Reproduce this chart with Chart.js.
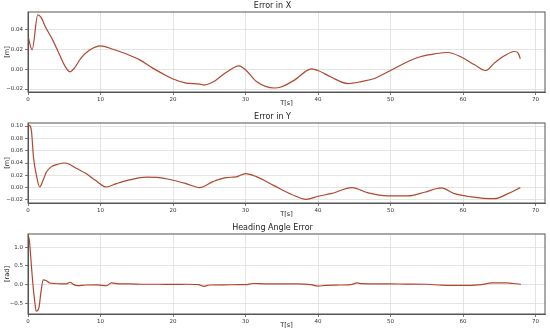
<!DOCTYPE html>
<html>
<head>
<meta charset="utf-8">
<script src="https://cdn.jsdelivr.net/npm/chart.js@4"></script>
<style>
  html, body { margin: 0; padding: 0; background: #fff; }
  #wrap { width: 550px; height: 333px; }
  .panel { position: relative; width: 550px; height: 111px; }
</style>
</head>
<body>
<div id="wrap">
  <div class="panel"><canvas id="cX"></canvas></div>
  <div class="panel"><canvas id="cY"></canvas></div>
  <div class="panel"><canvas id="cH"></canvas></div>
</div>
<script>
// Erro em X
const tX = [0, 0.57, 1.35, 1.8, 2.5, 3.4, 4.35, 5.27, 5.8, 6.4, 7.3, 8.4, 10.0, 11.7, 13.5, 15.4, 17.2, 19.1, 20, 21.8, 23.7, 24.3, 25.5, 27.3, 29.1, 30.1, 31.5, 34, 34.9, 36.8, 39.1, 40, 41.8, 44.1, 46, 47.8, 50, 52.4, 54.2, 56.1, 57.9, 59.8, 61.6, 63.1, 64.3, 65.7, 67.1, 67.6, 67.9];
const errX = [0.033, 0.0194, 0.0546, 0.052, 0.041, 0.0294, 0.0144, 0.001, -0.0027, 0.001, 0.011, 0.0187, 0.0234, 0.020, 0.0154, 0.0093, 0.001, -0.0067, -0.010, -0.014, -0.015, -0.016, -0.013, -0.0034, 0.0033, -0.0014, -0.0125, -0.019, -0.018, -0.0108, 0.0003, -0.0014, -0.008, -0.0145, -0.0125, -0.0094, -0.0014, 0.0077, 0.0127, 0.0154, 0.0167, 0.012, 0.0043, -0.0014, 0.006, 0.0134, 0.0177, 0.016, 0.0104];

// Erro em Y
const tY = [0, 0.3, 0.48, 0.76, 1.13, 1.6, 2.05, 2.5, 3.2, 4.1, 5.0, 5.7, 6.65, 8.0, 9.4, 10.8, 12.2, 14, 16.3, 18.1, 20, 21.8, 23.7, 25.5, 27.3, 28.7, 30.0, 31.5, 34, 36.3, 38.4, 40, 41.8, 44.7, 46.9, 49.6, 52.4, 54.7, 57.0, 58.8, 61.1, 64.3, 66.2, 67.9];
const errY = [0.102, 0.100, 0.092, 0.049, 0.022, 0.001, 0.011, 0.0245, 0.0337, 0.038, 0.040, 0.038, 0.0315, 0.0228, 0.011, 0.001, 0.0065, 0.0125, 0.017, 0.0163, 0.012, 0.0065, 0.0, 0.0098, 0.0163, 0.0174, 0.0228, 0.0179, 0.0028, -0.0107, -0.019, -0.014, -0.0098, 0.0, -0.0086, -0.0135, -0.0135, -0.0075, -0.0005, -0.0098, -0.015, -0.018, -0.0098, 0.0];

// Erro de ângulo de rumo
const tH = [0, 0.2, 0.44, 0.66, 0.9, 1.13, 1.5, 1.8, 2.1, 2.5, 3.0, 3.6, 4.5, 5.3, 5.8, 6.3, 6.8, 8, 9.5, 10.8, 11.5, 12.5, 14, 16, 18, 20, 22, 23.5, 24.3, 25, 27, 29, 30, 31, 33, 35, 37, 39, 40, 41, 43, 44.5, 45.4, 46, 48, 50, 52, 55, 57, 59, 61, 62.5, 64, 66, 67, 68];
const errH = [1.34, 1.16, 0.58, 0.045, -0.40, -0.71, -0.62, -0.18, 0.13, 0.11, 0.045, 0.03, 0.02, 0.02, 0.064, 0.0, -0.027, -0.01, -0.005, -0.03, 0.045, 0.02, 0.02, 0.01, 0.01, 0.005, 0.01, 0.0, -0.045, -0.01, -0.005, 0.0, 0.0, 0.03, 0.02, 0.02, 0.02, 0.0, -0.04, -0.02, -0.01, 0.0, 0.045, 0.025, 0.02, 0.02, 0.015, 0.01, -0.015, -0.02, -0.02, 0.0, 0.045, 0.045, 0.03, 0.01];

// Ticks
const ticksT = [0, 10, 20, 30, 40, 50, 60, 70];
const ticksX = [-0.02, 0.00, 0.02, 0.04];
const ticksY = [-0.02, 0.00, 0.02, 0.04, 0.06, 0.08, 0.10];
const ticksH = [-0.5, 0.0, 0.5, 1.0];

const FONT = 'DejaVu Sans';
const LINE = '#b0472e';
const GRID = '#dddddd';
const SPINE = '#555555';

function fmt(v, d) {
    return v.toFixed(d).replace('-', '\u2212');
}

function makeChart(id, title, unit, ts, vals, yTicks, yMin, yMax, dec) {
    const pts = ts.map((t, i) => ({ x: t, y: vals[i] }));
    return new Chart(document.getElementById(id), {
        type: 'line',
        data: {
            datasets: [{
                data: pts,
                borderColor: LINE,
                borderWidth: 1.2,
                pointRadius: 0,
                fill: false,
                cubicInterpolationMode: 'monotone'
            }]
        },
        options: {
            responsive: true,
            maintainAspectRatio: false,
            animation: false,
            layout: { padding: { left: 0, right: 5, top: 0, bottom: 0 } },
            plugins: {
                legend: { display: false },
                tooltip: { enabled: false },
                title: {
                    display: true,
                    text: title,
                    color: '#222',
                    font: { family: FONT, size: 8, weight: 'normal' },
                    padding: { top: 1, bottom: 1.4 }
                }
            },
            scales: {
                x: {
                    type: 'linear',
                    min: 0,
                    max: 71.3,
                    afterBuildTicks: s => { s.ticks = ticksT.map(v => ({ value: v })); },
                    afterFit: s => { s.height = 19; },
                    ticks: {
                        color: '#333',
                        font: { family: FONT, size: 5.5 },
                        padding: 1,
                        maxRotation: 0,
                        callback: v => String(v)
                    },
                    grid: { color: GRID, lineWidth: 0.8, tickLength: 3, tickColor: SPINE },
                    border: { color: SPINE, width: 1 },
                    title: {
                        display: true,
                        text: 'T[s]',
                        color: '#222',
                        font: { family: FONT, size: 6.5 },
                        padding: { top: 0, bottom: 4 }
                    }
                },
                y: {
                    min: yMin,
                    max: yMax,
                    afterBuildTicks: s => { s.ticks = yTicks.map(v => ({ value: v })); },
                    afterFit: s => { s.width = 28; },
                    ticks: {
                        color: '#333',
                        font: { family: FONT, size: 5.5 },
                        padding: 2,
                        callback: v => fmt(v, dec)
                    },
                    grid: { color: GRID, lineWidth: 0.8, tickLength: 3, tickColor: SPINE },
                    border: { color: SPINE, width: 1 },
                    title: {
                        display: true,
                        text: unit,
                        color: '#222',
                        font: { family: FONT, size: 6.5 },
                        padding: { top: 3, bottom: 1 }
                    }
                }
            }
        },
        plugins: [{
            // cercadura completa como no matplotlib
            id: 'frame',
            afterDraw(chart) {
                const a = chart.chartArea;
                const c = chart.ctx;
                c.save();
                c.strokeStyle = SPINE;
                c.lineWidth = 1;
                c.strokeRect(a.left, a.top, a.right - a.left, a.bottom - a.top);
                c.restore();
            }
        }]
    });
}

makeChart('cX', 'Error in X', '[m]', tX, errX, ticksX, -0.023, 0.0574, 2);
makeChart('cY', 'Error in Y', '[m]', tY, errY, ticksY, -0.025, 0.105, 2);
makeChart('cH', 'Heading Angle Error', '[rad]', tH, errH, ticksH, -0.786, 1.356, 1);
</script>
</body>
</html>
